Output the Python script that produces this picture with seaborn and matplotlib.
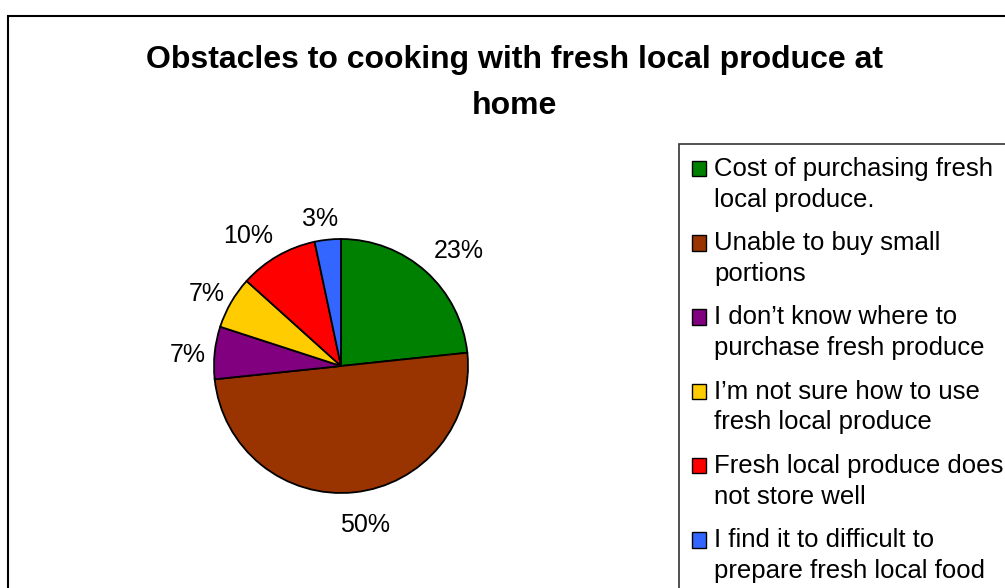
import matplotlib
matplotlib.use("Agg")
import matplotlib.pyplot as plt
import seaborn as sns
import numpy as np
from matplotlib.patches import Rectangle
from matplotlib.legend_handler import HandlerPatch

categories = [
    "Cost of purchasing fresh\nlocal produce.",
    "Unable to buy small\nportions",
    "I don\u2019t know where to\npurchase fresh produce",
    "I\u2019m not sure how to use\nfresh local produce",
    "Fresh local produce does\nnot store well",
    "I find it to difficult to\nprepare fresh local food",
]
counts = [7, 15, 2, 2, 3, 1]
colors = ["#008000", "#993300", "#800080", "#FFCC00", "#FF0000", "#3366FF"]
label_dist = [1.31, 1.25, 1.21, 1.21, 1.27, 1.19]
label_nudge_deg = [-3, 2.7, 1, 1, 5, 2]
title = "Obstacles to cooking with fresh local produce at\nhome"

sns.set_theme(style="white")
plt.rcParams["font.family"] = ["Liberation Sans", "DejaVu Sans"]
plt.rcParams["text.color"] = "black"

W, H = 1005, 588
fig = plt.figure(figsize=(W / 100, H / 100), dpi=100)
fig.patch.set_facecolor("white")

cx, cy, R = 341, 366, 127
ax = fig.add_axes([(cx - R) / W, (H - cy - R) / H, 2 * R / W, 2 * R / H])
palette = sns.color_palette(colors)
wedges, _ = ax.pie(counts, colors=palette, startangle=90, counterclock=False,
                   wedgeprops=dict(edgecolor="black", linewidth=1.3))
ax.set_xlim(-1, 1)
ax.set_ylim(-1, 1)
ax.set_aspect("equal")
ax.axis("off")

total = sum(counts)
for w, c, d, n in zip(wedges, counts, label_dist, label_nudge_deg):
    ang = np.deg2rad((w.theta1 + w.theta2) / 2 + n)
    ax.text(d * np.cos(ang), d * np.sin(ang), f"{100 * c / total:.0f}%",
            ha="center", va="center_baseline", fontsize=18, color="black",
            clip_on=False)

fig.text(514 / W, 1 - 83 / H, title, ha="center", va="center",
         fontsize=23, fontweight="bold", linespacing=1.66, color="black")


def top_square(legend, orig_handle, xdescent, ydescent, width, height, fontsize):
    shift = 0.62 * fontsize
    return Rectangle((-xdescent, -ydescent + shift), width, height)


leg = fig.legend(wedges, categories, loc="upper left",
                 bbox_to_anchor=(679 / W, 1 - 144 / H), borderaxespad=0,
                 fontsize=18.5, frameon=True, fancybox=False, edgecolor="black",
                 handlelength=0.55, handleheight=0.55, handletextpad=0.32,
                 borderpad=0.5, labelspacing=0.755,
                 handler_map={matplotlib.patches.Wedge: HandlerPatch(patch_func=top_square)})
leg.get_frame().set_linewidth(1.2)
for t in leg.get_texts():
    t.set_linespacing(1.36)
    t.set_color("black")
for h in leg.legend_handles:
    h.set_edgecolor("black")
    h.set_linewidth(1.0)

fig.add_artist(Rectangle((8 / W, -0.1), 2.0, 1 - 16 / H + 0.1,
                         transform=fig.transFigure, fill=False,
                         edgecolor="black", linewidth=1.5, zorder=-1))

fig.savefig("out.png", dpi=100, facecolor="white")
